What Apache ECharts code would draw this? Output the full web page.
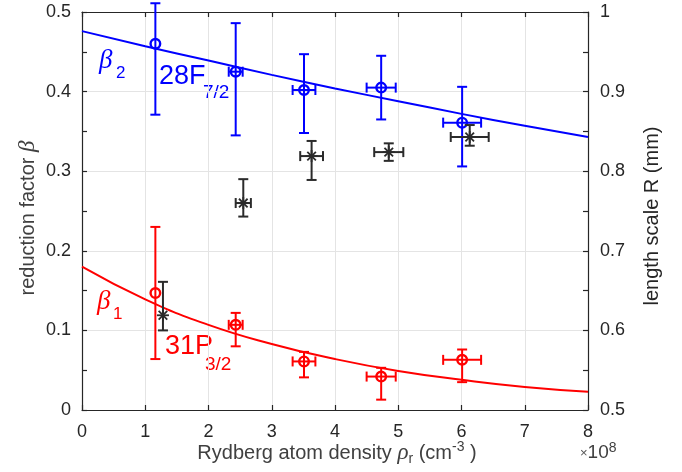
<!DOCTYPE html>
<html>
<head>
<meta charset="utf-8">
<script src="https://cdn.jsdelivr.net/npm/echarts@6/dist/echarts.min.js"></script>
<style>
html,body{margin:0;padding:0;background:#fff;}
#chart{width:682px;height:472px;}
</style>
</head>
<body>
<div id="chart"></div>
<script>
// ---- data (x in units of 1e8 cm^-3) ----
var xTicks = [0, 1, 2, 3, 4, 5, 6, 7, 8];
var leftTicks = [0, 0.1, 0.2, 0.3, 0.4, 0.5];
var rightTicks = [0.5, 0.6, 0.7, 0.8, 0.9, 1];

// beta_2 (28F7/2), blue
var blueX = [1.16, 2.43, 3.51, 4.73, 6.01];
var blueY = [0.460, 0.425, 0.402, 0.405, 0.361];
var blueXErr = [0, 0.11, 0.18, 0.23, 0.30];
var blueYLow = [0.371, 0.345, 0.348, 0.365, 0.306];
var blueYHigh = [0.511, 0.486, 0.447, 0.445, 0.406];

// beta_1 (31P3/2), red
var redX = [1.16, 2.43, 3.51, 4.73, 6.01];
var redY = [0.147, 0.107, 0.061, 0.042, 0.063];
var redXErr = [0, 0.11, 0.18, 0.23, 0.30];
var redYLow = [0.064, 0.080, 0.041, 0.013, 0.035];
var redYHigh = [0.230, 0.122, 0.073, 0.053, 0.076];

// length scale R (mm), black, right axis
var blackX = [1.28, 2.55, 3.63, 4.85, 6.13];
var blackY = [0.619, 0.760, 0.819, 0.824, 0.843];
var blackXErr = [0, 0.12, 0.18, 0.23, 0.30];
var blackYLow = [0.600, 0.743, 0.789, 0.813, 0.832];
var blackYHigh = [0.661, 0.790, 0.838, 0.835, 0.858];

// fitted curves
var fitX = [0, 1, 2, 3, 4, 5, 6, 7, 8];
var blueFit = [0.476, 0.457, 0.439, 0.421, 0.404, 0.388, 0.372, 0.357, 0.343];
var redFit = [0.180, 0.139, 0.107, 0.083, 0.064, 0.049, 0.038, 0.029, 0.023];

var FONT = 'Liberation Sans';
var AX = '#262626';
var NAMEC = '#404040';

function build(xs, ys, xe, lo, hi) {
  return xs.map(function (x, i) { return [x, ys[i], xe[i], lo[i], hi[i]]; });
}
function pairs(xs, ys) { return xs.map(function (x, i) { return [x, ys[i]]; }); }

function errRender(color, star) {
  return function (params, api) {
    var x = api.value(0), y = api.value(1), xe = api.value(2), lo = api.value(3), hi = api.value(4);
    var c = api.coord([x, y]);
    var t = api.coord([x, hi]), b = api.coord([x, lo]);
    var st = { stroke: color, lineWidth: 2, fill: null };
    var cap = 5;
    var ch = [
      { type: 'line', shape: { x1: c[0], y1: t[1], x2: c[0], y2: b[1] }, style: st },
      { type: 'line', shape: { x1: c[0] - cap, y1: t[1], x2: c[0] + cap, y2: t[1] }, style: st },
      { type: 'line', shape: { x1: c[0] - cap, y1: b[1], x2: c[0] + cap, y2: b[1] }, style: st }
    ];
    if (xe > 0) {
      var l = api.coord([x - xe, y]), r = api.coord([x + xe, y]);
      ch.push({ type: 'line', shape: { x1: l[0], y1: c[1], x2: r[0], y2: c[1] }, style: st });
      ch.push({ type: 'line', shape: { x1: l[0], y1: c[1] - cap, x2: l[0], y2: c[1] + cap }, style: st });
      ch.push({ type: 'line', shape: { x1: r[0], y1: c[1] - cap, x2: r[0], y2: c[1] + cap }, style: st });
    }
    if (star) {
      var s = 6, d = 4.3;
      var ss = { stroke: color, lineWidth: 1.8, fill: null };
      ch.push({ type: 'line', shape: { x1: c[0], y1: c[1] - s, x2: c[0], y2: c[1] + s }, style: ss });
      ch.push({ type: 'line', shape: { x1: c[0] - s, y1: c[1], x2: c[0] + s, y2: c[1] }, style: ss });
      ch.push({ type: 'line', shape: { x1: c[0] - d, y1: c[1] - d, x2: c[0] + d, y2: c[1] + d }, style: ss });
      ch.push({ type: 'line', shape: { x1: c[0] - d, y1: c[1] + d, x2: c[0] + d, y2: c[1] - d }, style: ss });
    } else {
      ch.push({ type: 'circle', shape: { cx: c[0], cy: c[1], r: 4.8 }, style: { stroke: color, lineWidth: 2.4, fill: null } });
    }
    return { type: 'group', children: ch };
  };
}

var chart = echarts.init(document.getElementById('chart'), null, { renderer: 'canvas' });

var valAxisCommon = {
  type: 'value',
  axisLine: { show: true, onZero: false, lineStyle: { color: AX, width: 1.2 } },
  axisTick: { show: true, inside: true, length: 5, lineStyle: { color: AX, width: 1.2 } },
  minorTick: { show: true, splitNumber: 2, length: 5, lineStyle: { color: AX, width: 1.2 } }
};

var option = {
  animation: false,
  backgroundColor: '#fff',
  grid: { left: 82, right: 94, top: 12, bottom: 62 },
  xAxis: [
    {
      type: 'value', min: xTicks[0], max: xTicks[xTicks.length - 1], interval: 1, position: 'bottom',
      axisLine: { show: true, onZero: false, lineStyle: { color: AX, width: 1.2 } },
      axisTick: { show: true, inside: true, length: 5, lineStyle: { color: AX, width: 1.2 } },
      axisLabel: { color: AX, fontSize: 18, fontFamily: FONT, margin: 13 },
      splitLine: { show: true, lineStyle: { color: '#e4e4e4', width: 1 } }
    },
    {
      type: 'value', min: xTicks[0], max: xTicks[xTicks.length - 1], interval: 1, position: 'top',
      axisLine: { show: true, onZero: false, lineStyle: { color: AX, width: 1.2 } },
      axisTick: { show: true, inside: true, length: 5, lineStyle: { color: AX, width: 1.2 } },
      axisLabel: { show: false },
      splitLine: { show: false }
    }
  ],
  yAxis: [
    Object.assign({}, valAxisCommon, {
      min: leftTicks[0], max: leftTicks[leftTicks.length - 1], interval: 0.1, position: 'left',
      axisLabel: { color: AX, fontSize: 18, fontFamily: FONT, margin: 11 },
      splitLine: { show: true, lineStyle: { color: '#e4e4e4', width: 1 } }
    }),
    Object.assign({}, valAxisCommon, {
      min: rightTicks[0], max: rightTicks[rightTicks.length - 1], interval: 0.1, position: 'right',
      axisLabel: { color: AX, fontSize: 18, fontFamily: FONT, margin: 12 },
      splitLine: { show: false }
    })
  ],
  series: [
    {
      type: 'line', data: pairs(fitX, blueFit), smooth: true, showSymbol: false, symbol: 'none',
      lineStyle: { color: '#0000ff', width: 2 }, z: 3
    },
    {
      type: 'line', data: pairs(fitX, redFit), smooth: true, showSymbol: false, symbol: 'none',
      lineStyle: { color: '#ff0000', width: 2 }, z: 3
    },
    {
      type: 'custom', renderItem: errRender('#0000ff', false),
      data: build(blueX, blueY, blueXErr, blueYLow, blueYHigh),
      encode: { x: 0, y: 1 }, clip: false, z: 4
    },
    {
      type: 'custom', renderItem: errRender('#ff0000', false),
      data: build(redX, redY, redXErr, redYLow, redYHigh),
      encode: { x: 0, y: 1 }, clip: false, z: 4
    },
    {
      type: 'custom', yAxisIndex: 1, renderItem: errRender('#2b2b2b', true),
      data: build(blackX, blackY, blackXErr, blackYLow, blackYHigh),
      encode: { x: 0, y: 1 }, clip: false, z: 5
    }
  ],
  graphic: [
    // annotations
    { type: 'text', x: 99, y: 61, style: { text: 'β', font: 'italic 27px "Liberation Serif"', fill: '#0000ff', verticalAlign: 'middle' } },
    { type: 'text', x: 116, y: 73, style: { text: '2', font: '17px "Liberation Sans"', fill: '#0000ff', verticalAlign: 'middle' } },
    { type: 'text', x: 159, y: 77, style: { text: '28F', font: '27px "Liberation Sans"', fill: '#0000ff', verticalAlign: 'middle' } },
    { type: 'text', x: 203, y: 93, style: { text: '7/2', font: '19px "Liberation Sans"', fill: '#0000ff', verticalAlign: 'middle' } },
    { type: 'text', x: 97, y: 302, style: { text: 'β', font: 'italic 27px "Liberation Serif"', fill: '#ff0000', verticalAlign: 'middle' } },
    { type: 'text', x: 113, y: 314, style: { text: '1', font: '17px "Liberation Sans"', fill: '#ff0000', verticalAlign: 'middle' } },
    { type: 'text', x: 165, y: 347, style: { text: '31P', font: '27px "Liberation Sans"', fill: '#ff0000', verticalAlign: 'middle' } },
    { type: 'text', x: 205, y: 365, style: { text: '3/2', font: '19px "Liberation Sans"', fill: '#ff0000', verticalAlign: 'middle' } },
    // axis names
    {
      type: 'text', x: 28, y: 218, rotation: Math.PI / 2,
      style: {
        text: '{a|reduction factor }{b|β}', align: 'center', verticalAlign: 'middle',
        rich: {
          a: { fontSize: 20, fontFamily: FONT, fill: NAMEC },
          b: { fontSize: 23, fontFamily: 'Liberation Serif', fontStyle: 'italic', fill: NAMEC }
        }
      }
    },
    {
      type: 'text', x: 652, y: 216, rotation: Math.PI / 2,
      style: { text: 'length scale R (mm)', align: 'center', verticalAlign: 'middle', font: '20px "Liberation Sans"', fill: AX }
    },
    {
      type: 'text', x: 337, y: 453,
      style: {
        text: '{a|Rydberg atom density }{b|ρ}{s|r}{a| (cm}{p|-3}{a| )}', align: 'center', verticalAlign: 'middle',
        rich: {
          a: { fontSize: 20, fontFamily: FONT, fill: NAMEC, lineHeight: 26 },
          b: { fontSize: 23, fontFamily: 'Liberation Serif', fontStyle: 'italic', fill: NAMEC, lineHeight: 26 },
          s: { fontSize: 14, fontFamily: FONT, fill: NAMEC, lineHeight: 14, verticalAlign: 'bottom' },
          p: { fontSize: 14, fontFamily: FONT, fill: NAMEC, lineHeight: 14, verticalAlign: 'top' }
        }
      }
    },
    {
      type: 'text', x: 580, y: 453,
      style: {
        text: '{x|×}{a|10}{p|8}', verticalAlign: 'middle',
        rich: {
          x: { fontSize: 13, fontFamily: FONT, fill: '#555', lineHeight: 24 },
          a: { fontSize: 19, fontFamily: FONT, fill: NAMEC, lineHeight: 24 },
          p: { fontSize: 14, fontFamily: FONT, fill: NAMEC, lineHeight: 14, verticalAlign: 'top' }
        }
      }
    }
  ]
};
chart.setOption(option);
</script>
</body>
</html>
